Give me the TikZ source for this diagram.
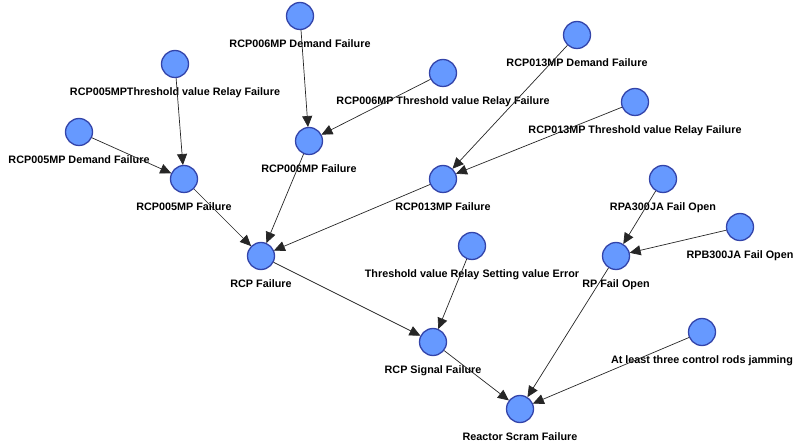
\documentclass[tikz,border=0pt]{standalone}
\usepackage{fontspec}
\setmainfont{Liberation Sans}
\usepackage{tikz}
\usepackage{tkz-berge}
\usetikzlibrary{arrows.meta}
\definecolor{nodefill}{RGB}{102,153,255}
\definecolor{nodeline}{RGB}{51,68,170}
\newcommand{\inners}{0pt}
\newcommand{\outers}{0.5pt}
\newcommand{\ldist}{9pt}

\begin{document}
\begin{tikzpicture}[x=1pt,y=-1pt]
    %\draw[help lines] (0,0) grid (796,446);
        \useasboundingbox (0,0) rectangle (796,446);
        \GraphInit[vstyle=Normal]
        \SetVertexNormal[Shape=circle, FillColor=nodefill, LineColor=nodeline, LineWidth=1.3pt, MinSize=27pt]
        \tikzset{VertexStyle/.append style = {inner sep = \inners, outer sep = \outers}}
        \tikzset{EdgeStyle/.style = {-{Triangle[length=11pt,width=10pt]}, draw=black!85, line width=0.7pt}}
        \tikzset{every label/.style = {font=\fontsize{10.8}{12}\selectfont\bfseries, inner sep=0pt}}
        \Vertex[x=300,y=16,L={RCP006MP Demand Failure},Lpos=270,LabelOut=true,Ldist=\ldist]{a}
        \Vertex[x=175,y=64,L={RCP005MPThreshold value Relay Failure},Lpos=270,LabelOut=true,Ldist=\ldist]{b}
        \Vertex[x=79,y=132,L={RCP005MP Demand Failure},Lpos=270,LabelOut=true,Ldist=\ldist]{c}
        \Vertex[x=184,y=179,L={RCP005MP Failure},Lpos=270,LabelOut=true,Ldist=\ldist]{d}
        \Vertex[x=309,y=141,L={RCP006MP Failure},Lpos=270,LabelOut=true,Ldist=\ldist]{e}
        \Vertex[x=443,y=73,L={RCP006MP Threshold value Relay Failure},Lpos=270,LabelOut=true,Ldist=\ldist]{f}
        \Vertex[x=577,y=35,L={RCP013MP Demand Failure},Lpos=270,LabelOut=true,Ldist=\ldist]{g}
        \Vertex[x=635,y=102,L={RCP013MP Threshold value Relay Failure},Lpos=270,LabelOut=true,Ldist=\ldist]{h}
        \Vertex[x=443,y=179,L={RCP013MP Failure},Lpos=270,LabelOut=true,Ldist=\ldist]{i}
        \Vertex[x=663,y=179,L={RPA300JA Fail Open},Lpos=270,LabelOut=true,Ldist=\ldist]{j}
        \Vertex[x=261,y=256,L={RCP Failure},Lpos=270,LabelOut=true,Ldist=\ldist]{k}
        \Vertex[x=472,y=246,L={Threshold value Relay Setting value Error},Lpos=270,LabelOut=true,Ldist=\ldist]{l}
        \Vertex[x=433,y=342,L={RCP Signal Failure},Lpos=270,LabelOut=true,Ldist=\ldist]{m}
        \Vertex[x=520,y=409,L={Reactor Scram Failure},Lpos=270,LabelOut=true,Ldist=\ldist]{n}
        \Vertex[x=740,y=227,L={RPB300JA Fail Open},Lpos=270,LabelOut=true,Ldist=\ldist]{o}
        \Vertex[x=616,y=256,L={RP Fail Open},Lpos=270,LabelOut=true,Ldist=\ldist]{p}
        \Vertex[x=702,y=332,L={At least three control rods jamming},Lpos=270,LabelOut=true,Ldist=\ldist]{q}
        
        
        \Edge(b)(d)
        \Edge(c)(d)
        \Edge(a)(e)
        \Edge(f)(e)
        \Edge(g)(i)
        \Edge(h)(i)
        \Edge(d)(k)
        \Edge(e)(k)
        \Edge(i)(k)
        \Edge(k)(m)
        \Edge(l)(m)
        \Edge(m)(n)
        \Edge(p)(n)
        \Edge(q)(n)
        \Edge(j)(p)
        \Edge(o)(p)
        
        
    \end{tikzpicture}
\end{document}
